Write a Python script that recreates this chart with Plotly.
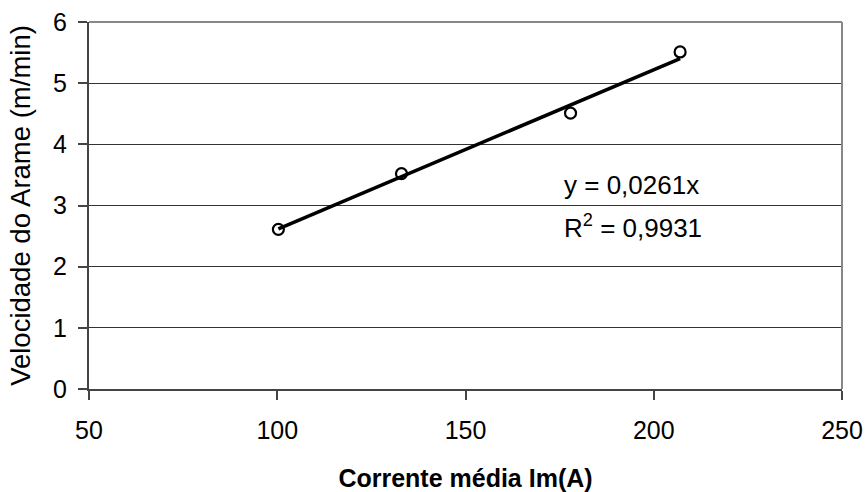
import plotly.graph_objects as go

# Data
corrente = [100.3, 133.0, 177.9, 207.0]
velocidade = [2.61, 3.52, 4.51, 5.51]
slope = 0.0261
trend_x = [min(corrente), max(corrente)]
trend_y = [slope * v for v in trend_x]
x_ticks = [50, 100, 150, 200, 250]
y_ticks = [0, 1, 2, 3, 4, 5, 6]

FONT = "Arial, 'Liberation Sans', sans-serif"

fig = go.Figure()
fig.add_trace(go.Scatter(
    x=trend_x, y=trend_y, mode="lines",
    line=dict(color="black", width=3.5), showlegend=False, hoverinfo="skip"))
fig.add_trace(go.Scatter(
    x=corrente, y=velocidade, mode="markers",
    marker=dict(symbol="circle-open", size=11, color="black", line=dict(width=2.2, color="black")),
    showlegend=False))

fig.add_annotation(x=175.6, y=3.33, xref="x", yref="y", xanchor="left", yanchor="middle",
                   text="y = 0,0261x", showarrow=False, font=dict(family=FONT, size=26, color="black"))
fig.add_annotation(x=175.6, y=2.65, xref="x", yref="y", xanchor="left", yanchor="middle",
                   text="R<sup>2</sup> = 0,9931", showarrow=False, font=dict(family=FONT, size=26, color="black"))

# top/right frame
fig.add_shape(type="line", xref="paper", yref="paper", x0=0, x1=1, y0=1, y1=1,
              line=dict(color="#888888", width=2))
fig.add_shape(type="line", xref="paper", yref="paper", x0=1, x1=1, y0=0, y1=1,
              line=dict(color="#888888", width=2))

fig.update_layout(
    width=867, height=492,
    margin=dict(l=89, r=25, t=22, b=103),
    plot_bgcolor="white", paper_bgcolor="white",
    font=dict(family=FONT, size=25, color="black"),
    xaxis=dict(
        range=[50, 250], tickvals=x_ticks, ticktext=[str(v) for v in x_ticks],
        automargin=False,
        showgrid=False, zeroline=False,
        showline=True, linecolor="#444444", linewidth=2,
        ticks="outside", ticklen=9, tickcolor="#444444", tickwidth=2,
        ticklabelstandoff=9,
        tickfont=dict(family=FONT, size=25, color="black"),
        title=dict(text="<b>Corrente média Im(A)</b>", standoff=26,
                   font=dict(family=FONT, size=25, color="black")),
    ),
    yaxis=dict(
        range=[0, 6], tickvals=y_ticks, ticktext=[str(v) for v in y_ticks],
        automargin=False,
        showgrid=True, gridcolor="#333333", gridwidth=1, zeroline=False,
        showline=True, linecolor="#444444", linewidth=2,
        ticks="outside", ticklen=9, tickcolor="#444444", tickwidth=2,
        ticklabelstandoff=6,
        tickfont=dict(family=FONT, size=25, color="black"),
        title=dict(text="Velocidade do Arame (m/min)", standoff=14,
                   font=dict(family=FONT, size=27.5, color="black")),
    ),
)

fig.write_html("out.html",
               config={"displayModeBar": False},
               post_script="document.body.style.margin='0';document.body.style.overflow='hidden';")
